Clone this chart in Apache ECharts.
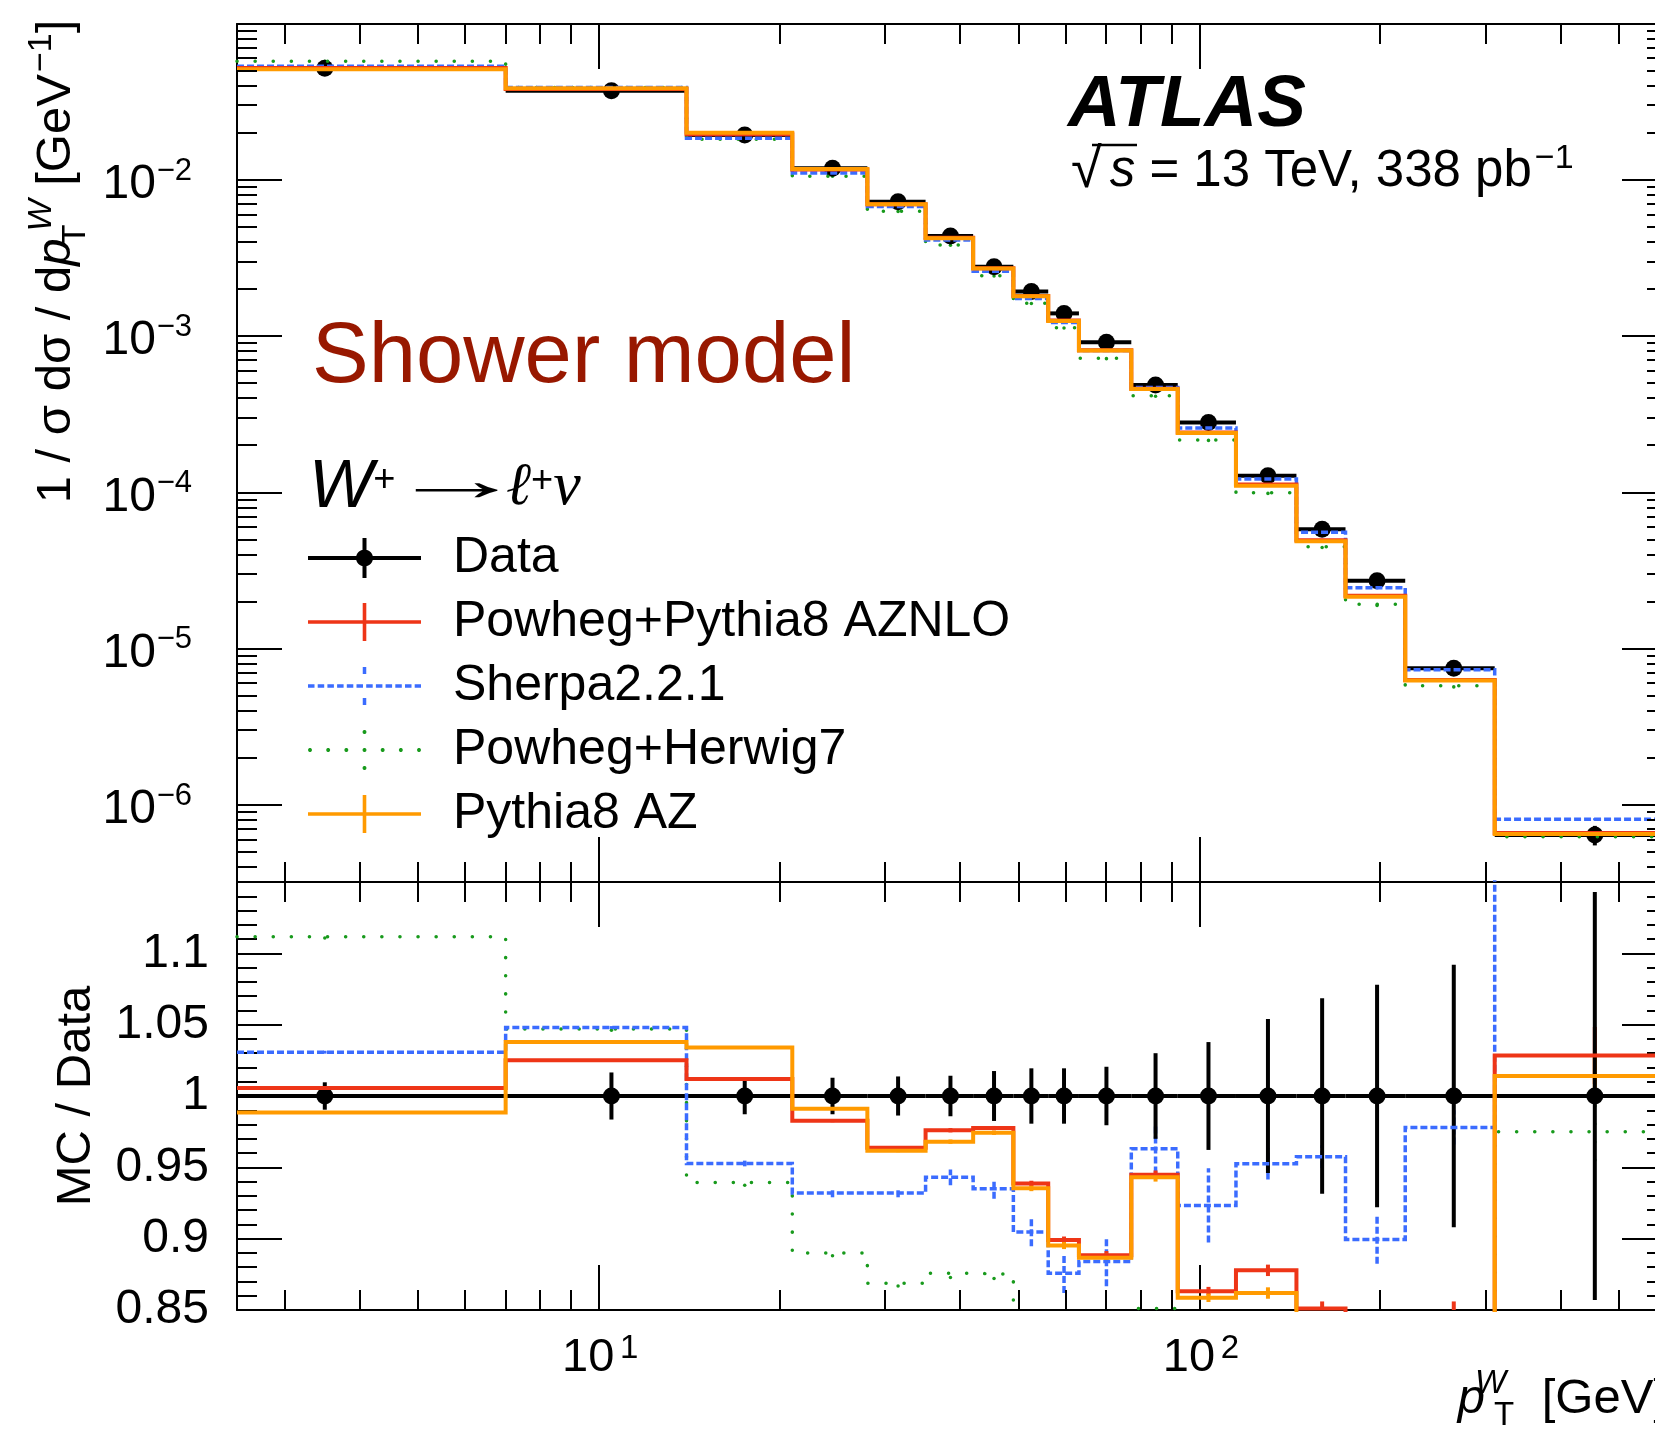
<!DOCTYPE html>
<html lang="en">
<head>
<meta charset="utf-8">
<title>W+ transverse momentum – shower model comparison</title>
<script src="https://cdn.jsdelivr.net/npm/echarts@6/dist/echarts.min.js"></script>
<style>
  html, body { margin: 0; padding: 0; background: #ffffff; overflow: hidden; }
  #chart { width: 1700px; height: 1442px; }
</style>
</head>
<body>
<div id="chart"></div>
<script>
// ---- measured normalised spectrum, W+ -> l+ nu ----
const binEdges   = [0, 7, 14, 21, 28, 35, 42, 49, 56, 63, 77, 92, 115, 145, 175, 220, 310, 600];
const dataValues = [0.0518, 0.0373, 0.01941, 0.01188, 0.00726, 0.00438, 0.002786, 0.00193, 0.00140,
                    0.000915, 0.000488, 0.000280, 0.0001281, 0.0000581, 0.00002726, 0.0000075, 0.000000643];
const dataRelErr = [0.0096, 0.0165, 0.0128, 0.0128, 0.0137, 0.0142, 0.0175, 0.0194, 0.0194,
                    0.0205, 0.030, 0.0378, 0.054, 0.0685, 0.078, 0.092, 0.143];

// ---- MC / Data ratios per bin ----
const ratioAZNLO  = [1.0056, 1.0251, 1.012, 0.9826, 0.9637, 0.976, 0.9775, 0.9386, 0.899,
                     0.8883, 0.9448, 0.8632, 0.8778, 0.851, 0.80, 0.84, 1.0284];
const ratioSherpa = [1.0307, 1.048, 0.9527, 0.932, 0.932, 0.943, 0.935, 0.9046, 0.8757,
                     0.884, 0.963, 0.9233, 0.9525, 0.9575, 0.8995, 0.978, 1.26];
const ratioHerwig = [1.1117, 1.047, 0.9394, 0.890, 0.8688, 0.8757, 0.875, 0.843, 0.809,
                     0.79, 0.851, 0.775, 0.778, 0.774, 0.706, 0.774, 0.975];
const ratioAZ     = [0.9885, 1.0378, 1.034, 0.991, 0.9616, 0.968, 0.9742, 0.9353, 0.8952,
                     0.8867, 0.943, 0.8586, 0.8619, 0.838, 0.79, 0.835, 1.0141];

// ---- MC statistical uncertainties (in ratio units) ----
const errAZNLO  = [0.0005, 0.0005, 0.0008, 0.001, 0.001, 0.0015, 0.0015, 0.002, 0.0025,
                   0.003, 0.003, 0.003, 0.004, 0.005, 0.008, 0.016, 0.02];
const errSherpa = [0.001, 0.001, 0.002, 0.003, 0.003, 0.0055, 0.007, 0.01, 0.0137,
                   0.0173, 0.0173, 0.026, 0.011, 0.008, 0.017, 0.012, 0.02];
const errHerwig = [0.001, 0.001, 0.002, 0.002, 0.002, 0.003, 0.003, 0.004, 0.004,
                   0.005, 0.006, 0.006, 0.008, 0.01, 0.012, 0.015, 0.02];
const errAZ     = [0.0005, 0.0005, 0.0008, 0.001, 0.001, 0.0015, 0.0015, 0.002, 0.0025,
                   0.003, 0.003, 0.003, 0.004, 0.005, 0.008, 0.01, 0.015];

// ---- axis ticks and labels ----
const xMajorTicks     = [10, 100];
const xMajorBase      = ['10', '10'];
const xMajorExponents = ['1', '2'];
const xMinorTicks     = [3, 4, 5, 6, 7, 8, 9, 20, 30, 40, 50, 60, 70, 80, 90, 200, 300, 400, 500];
const yMajorTicks     = [1e-6, 1e-5, 1e-4, 1e-3, 1e-2];
const yMajorBase      = ['10', '10', '10', '10', '10'];
const yMajorExponents = ['−6', '−5', '−4', '−3', '−2'];
const yMinorDecades   = [1e-7, 1e-6, 1e-5, 1e-4, 1e-3, 1e-2];
const yMinorSteps     = [2, 3, 4, 5, 6, 7, 8, 9];
const ratioTicks      = [0.85, 0.9, 0.95, 1, 1.05, 1.1];
const ratioTickLabels = ['0.85', '0.9', '0.95', '1', '1.05', '1.1'];

// ---- axis ranges ----
const X_MIN = 2.5, X_MAX = 600;
const Y_MIN = 3.214e-7, Y_MAX = 0.0996;
const R_MIN = 0.85, R_MAX = 1.15;

const FONT = '"Liberation Sans", Arial, Helvetica, sans-serif';
const SERIF = '"Liberation Serif", "DejaVu Serif", serif';
const BLACK = '#000000';

const nBins = dataValues.length;
const lowEdge = i => Math.max(binEdges[i], X_MIN);
const centre = i => (binEdges[i] + binEdges[i + 1]) / 2;
const sameLog = (a, b) => Math.abs(Math.log10(a) - Math.log10(b)) < 1e-6;
const pickLabel = (ticks, labels) => v => {
  const k = ticks.findIndex(t => sameLog(t, v));
  return k < 0 ? '' : labels[k];
};

const models = [
  { name: 'Powheg+Herwig7',       ratio: ratioHerwig, err: errHerwig, color: '#189a1c', width: 3.5, dash: [0.1, 18], cap: 'round' },
  { name: 'Sherpa2.2.1',          ratio: ratioSherpa, err: errSherpa, color: '#3b6cff', width: 3.5, dash: [7, 3],   cap: 'butt' },
  { name: 'Powheg+Pythia8 AZNLO', ratio: ratioAZNLO,  err: errAZNLO,  color: '#ee3517', width: 4,   dash: 'solid',  cap: 'butt' },
  { name: 'Pythia8 AZ',           ratio: ratioAZ,     err: errAZ,     color: '#ff9a00', width: 4,   dash: 'solid',  cap: 'butt' }
];

// histogram outline: one point per lower bin edge plus the closing edge
function stepPoints(values) {
  const pts = values.map((v, i) => [lowEdge(i), v]);
  pts.push([binEdges[nBins], values[nBins - 1]]);
  return pts;
}

function stubRenderer(m) {
  return function (params, api) {
    const a = api.coord([api.value(0), api.value(1)]);
    const b = api.coord([api.value(0), api.value(2)]);
    return {
      type: 'line',
      shape: { x1: a[0], y1: a[1], x2: b[0], y2: b[1] },
      style: { stroke: m.color, lineWidth: m.width, lineDash: m.dash === 'solid' ? null : m.dash, lineCap: m.cap }
    };
  };
}

function renderData(params, api) {
  const lo = api.value(0), hi = api.value(1), c = api.value(2), v = api.value(3), e = api.value(4);
  const a = api.coord([lo, v]), b = api.coord([hi, v]), m = api.coord([c, v]);
  const up = api.coord([c, v * (1 + e)]), dn = api.coord([c, v * (1 - e)]);
  const st = { stroke: BLACK, lineWidth: 4 };
  return {
    type: 'group',
    children: [
      { type: 'line', shape: { x1: a[0], y1: a[1], x2: b[0], y2: b[1] }, style: st },
      { type: 'line', shape: { x1: m[0], y1: up[1], x2: m[0], y2: dn[1] }, style: st },
      { type: 'circle', shape: { cx: m[0], cy: m[1], r: 8.5 }, style: { fill: BLACK } }
    ]
  };
}

// minor ticks on log axes, drawn inward from both sides of a pad
function renderTick(params, api) {
  const cs = params.coordSys;
  const p = api.coord([api.value(0), api.value(1)]);
  const st = { stroke: BLACK, lineWidth: 2 };
  if (api.value(2) === 0) {
    const x = Math.round(p[0]);
    return { type: 'group', children: [
      { type: 'line', shape: { x1: x, y1: cs.y + cs.height, x2: x, y2: cs.y + cs.height - 20 }, style: st },
      { type: 'line', shape: { x1: x, y1: cs.y, x2: x, y2: cs.y + 20 }, style: st }
    ]};
  }
  const y = Math.round(p[1]);
  return { type: 'group', children: [
    { type: 'line', shape: { x1: cs.x, y1: y, x2: cs.x + 20, y2: y }, style: st },
    { type: 'line', shape: { x1: cs.x + cs.width, y1: y, x2: cs.x + cs.width - 20, y2: y }, style: st }
  ]};
}

const yMinorTicks = [];
yMinorDecades.forEach(d => yMinorSteps.forEach(s => {
  const v = d * s;
  if (v > Y_MIN && v < Y_MAX) yMinorTicks.push(v);
}));

const series = [];

series.push({
  type: 'custom', name: 'ticks-upper', xAxisIndex: 0, yAxisIndex: 0, clip: false, silent: true, z: 5,
  encode: { x: 0, y: 1 },
  data: xMinorTicks.map(v => [v, 1e-3, 0]).concat(yMinorTicks.map(v => [10, v, 1])),
  renderItem: renderTick
});
series.push({
  type: 'custom', name: 'ticks-lower', xAxisIndex: 2, yAxisIndex: 2, clip: false, silent: true, z: 5,
  encode: { x: 0, y: 1 },
  data: xMinorTicks.map(v => [v, 1, 0]),
  renderItem: renderTick
});

models.forEach(m => {
  const upper = m.ratio.map((r, i) => r * dataValues[i]);
  const lineCommon = {
    name: m.name, type: 'line', step: 'end', symbol: 'none', showSymbol: false, clip: true, silent: true,
    color: m.color, itemStyle: { color: m.color },
    lineStyle: { color: m.color, width: m.width, type: m.dash, cap: m.cap, join: 'miter' },
    emphasis: { disabled: true }
  };
  series.push(Object.assign({}, lineCommon, { xAxisIndex: 0, yAxisIndex: 0, data: stepPoints(upper) }));
  series.push({
    name: m.name, type: 'custom', xAxisIndex: 0, yAxisIndex: 0, clip: true, silent: true,
    itemStyle: { color: m.color }, encode: { x: 0, y: [1, 2] },
    data: upper.map((v, i) => [centre(i), v - m.err[i] * dataValues[i], v + m.err[i] * dataValues[i]]),
    renderItem: stubRenderer(m)
  });
  series.push(Object.assign({}, lineCommon, { xAxisIndex: 2, yAxisIndex: 2, data: stepPoints(m.ratio) }));
  series.push({
    name: m.name, type: 'custom', xAxisIndex: 2, yAxisIndex: 2, clip: true, silent: true,
    itemStyle: { color: m.color }, encode: { x: 0, y: [1, 2] },
    data: m.ratio.map((r, i) => [centre(i), r - m.err[i], r + m.err[i]]),
    renderItem: stubRenderer(m)
  });
});

series.push({
  name: 'Data', type: 'custom', xAxisIndex: 0, yAxisIndex: 0, clip: true, silent: true,
  itemStyle: { color: BLACK }, encode: { x: [0, 1, 2], y: [3] },
  data: dataValues.map((v, i) => [lowEdge(i), binEdges[i + 1], centre(i), v, dataRelErr[i]]),
  renderItem: renderData
});
series.push({
  name: 'Data', type: 'custom', xAxisIndex: 2, yAxisIndex: 2, clip: true, silent: true,
  itemStyle: { color: BLACK }, encode: { x: [0, 1, 2], y: [3] },
  data: dataValues.map((v, i) => [lowEdge(i), binEdges[i + 1], centre(i), v / v, dataRelErr[i]]),
  renderItem: renderData
});

// ---- legend icons (113 x 40 boxes) ----
const rect = (x, y, w, h) => `M${x},${y}L${x + w},${y}L${x + w},${y + h}L${x},${y + h}Z`;
function disc(cx, cy, r, n) {
  let s = '';
  for (let k = 0; k < n; k++) {
    const a = 2 * Math.PI * k / n;
    s += (k === 0 ? 'M' : 'L') + (cx + r * Math.cos(a)).toFixed(2) + ',' + (cy + r * Math.sin(a)).toFixed(2);
  }
  return s + 'Z';
}
const iconData = 'path://' + rect(0, 18, 113, 4) + rect(54.5, 0, 4, 40) + disc(56.5, 20, 8.5, 32);
const iconSolid = 'path://' + rect(0, 18.2, 113, 3.6) + rect(54.7, 1, 3.6, 38);
let dashPath = '';
for (let x = 0; x < 113; x += 9.7) dashPath += rect(+x.toFixed(2), 18.25, +Math.min(6.5, 113 - x).toFixed(2), 3.5);
dashPath += rect(54.75, 1, 3.5, 7) + rect(54.75, 32, 3.5, 7);
const iconDash = 'path://' + dashPath;
let dotPath = '';
for (let k = 0; k < 7; k++) dotPath += disc(2 + k * 18.1667, 20, 2, 10);
dotPath += disc(56.5, 2, 2, 10) + disc(56.5, 38, 2, 10);
const iconDot = 'path://' + dotPath;

// ---- axes ----
const frameLine = { show: true, onZero: false, lineStyle: { color: BLACK, width: 2 } };
const majorTick = { show: true, inside: true, length: 45, lineStyle: { color: BLACK, width: 2 } };
const noLabel = { show: false };
const noSplit = { show: false };
const hidden = { show: false };

function logXAxis(grid, position, extra) {
  return Object.assign({
    type: 'log', logBase: 10, gridIndex: grid, position: position, min: X_MIN, max: X_MAX,
    axisLine: frameLine, axisTick: majorTick, axisLabel: noLabel, splitLine: noSplit,
    nameMoveOverlap: false
  }, extra || {});
}

const xAxes = [
  logXAxis(0, 'bottom'),
  logXAxis(0, 'top'),
  // bottom axis of the ratio pad: mantissa labels and axis title
  logXAxis(1, 'bottom', {
    axisLabel: {
      show: true, margin: 25, color: BLACK, fontFamily: FONT, fontSize: 47,
      padding: [0, 21, 0, 0], showMinLabel: true, showMaxLabel: true,
      formatter: pickLabel(xMajorTicks, xMajorBase)
    },
    name: '{ix|p}{wx|W}{tx|T}{nx| [GeV]}',
    nameLocation: 'end', nameGap: 0,
    nameTextStyle: {
      align: 'right', verticalAlign: 'top', padding: [54, 0, 0, 0], lineHeight: 70,
      color: BLACK, fontFamily: FONT, fontSize: 49,
      rich: {
        ix: { fontSize: 49, fontStyle: 'italic', fontFamily: FONT, color: BLACK },
        wx: { fontSize: 33, height: 40, width: 1, align: 'left', verticalAlign: 'top', fontStyle: 'italic', padding: [0, 0, 0, 5], fontFamily: FONT, color: BLACK },
        tx: { fontSize: 33, height: 36, align: 'left', verticalAlign: 'bottom', padding: [0, 0, 0, 3], fontFamily: FONT, color: BLACK },
        nx: { fontSize: 49, fontFamily: FONT, color: BLACK, padding: [0, 0, 0, 14] }
      }
    }
  }),
  logXAxis(1, 'top'),
  // exponents of the bottom labels
  logXAxis(1, 'bottom', {
    axisLine: hidden, axisTick: hidden,
    axisLabel: {
      show: true, margin: 22, color: BLACK, fontFamily: FONT, fontSize: 33,
      padding: [0, 0, 0, 61], showMinLabel: true, showMaxLabel: true,
      formatter: pickLabel(xMajorTicks, xMajorExponents)
    }
  })
];

const yAxes = [
  {
    type: 'log', logBase: 10, gridIndex: 0, position: 'left', min: Y_MIN, max: Y_MAX,
    axisLine: frameLine, axisTick: majorTick, splitLine: noSplit, nameMoveOverlap: false,
    axisLabel: {
      show: true, margin: 81, color: BLACK, fontFamily: FONT, fontSize: 48,
      lineHeight: 10, verticalAlign: 'top', showMinLabel: true, showMaxLabel: true,
      formatter: pickLabel(yMajorTicks, yMajorBase)
    },
    name: '{ny|1 / σ dσ / d}{iy|p}{ty|T}{wy|W}{ny| [GeV}{ey|−1}{ny|]}',
    nameLocation: 'middle', nameRotate: 90, nameGap: 146,
    nameTextStyle: {
      padding: [0, 0, 0, 383], lineHeight: 70, color: BLACK, fontFamily: FONT, fontSize: 49,
      rich: {
        ny: { fontSize: 49, fontFamily: FONT, color: BLACK },
        iy: { fontSize: 49, fontStyle: 'italic', fontFamily: FONT, color: BLACK },
        ty: { fontSize: 34, height: 30, width: 1, align: 'left', verticalAlign: 'bottom', padding: [0, 0, 0, 3], fontFamily: FONT, color: BLACK },
        wy: { fontSize: 34, height: 42, align: 'left', verticalAlign: 'top', fontStyle: 'italic', padding: [0, 0, 0, 3], fontFamily: FONT, color: BLACK },
        ey: { fontSize: 34, height: 42, verticalAlign: 'top', padding: [0, 0, 0, 2], fontFamily: FONT, color: BLACK }
      }
    }
  },
  {
    type: 'log', logBase: 10, gridIndex: 0, position: 'right', min: Y_MIN, max: Y_MAX,
    axisLine: frameLine, axisTick: majorTick, axisLabel: noLabel, splitLine: noSplit, nameMoveOverlap: false
  },
  {
    type: 'value', gridIndex: 1, position: 'left', min: R_MIN, max: R_MAX, interval: 0.05,
    axisLine: frameLine, axisTick: majorTick, splitLine: noSplit, nameMoveOverlap: false,
    minorTick: { show: true, splitNumber: 5, length: 20, lineStyle: { color: BLACK, width: 2 } },
    minorSplitLine: { show: false },
    axisLabel: {
      show: true, margin: 28, color: BLACK, fontFamily: FONT, fontSize: 48,
      showMinLabel: true, showMaxLabel: true,
      formatter: v => {
        const k = ratioTicks.findIndex(t => Math.abs(t - v) < 1e-6);
        return k < 0 ? '' : ratioTickLabels[k];
      }
    },
    name: 'MC / Data', nameLocation: 'middle', nameRotate: 90, nameGap: 136,
    nameTextStyle: { fontSize: 49, lineHeight: 49, color: BLACK, fontFamily: FONT }
  },
  {
    type: 'value', gridIndex: 1, position: 'right', min: R_MIN, max: R_MAX, interval: 0.05,
    axisLine: frameLine, axisTick: majorTick, axisLabel: noLabel, splitLine: noSplit, nameMoveOverlap: false,
    minorTick: { show: true, splitNumber: 5, length: 20, lineStyle: { color: BLACK, width: 2 } },
    minorSplitLine: { show: false }
  },
  // exponents of the upper-pad labels
  {
    type: 'log', logBase: 10, gridIndex: 0, position: 'left', min: Y_MIN, max: Y_MAX,
    axisLine: hidden, axisTick: hidden, splitLine: noSplit, nameMoveOverlap: false,
    axisLabel: {
      show: true, margin: 45, color: BLACK, fontFamily: FONT, fontSize: 31,
      lineHeight: 18, verticalAlign: 'bottom', showMinLabel: true, showMaxLabel: true,
      formatter: pickLabel(yMajorTicks, yMajorExponents)
    }
  }
];

const option = {
  backgroundColor: '#ffffff',
  animation: false,
  textStyle: { fontFamily: FONT, color: BLACK },
  grid: [
    { left: 237, top: 24, width: 1430, height: 858, outerBoundsMode: 'none', containLabel: false },
    { left: 237, top: 882, width: 1430, height: 428, outerBoundsMode: 'none', containLabel: false }
  ],
  xAxis: xAxes,
  yAxis: yAxes,
  legend: {
    orient: 'vertical', left: 308, top: 533, padding: 0,
    itemWidth: 113, itemHeight: 40, itemGap: 14,
    selectedMode: false, symbolKeepAspect: true,
    itemStyle: { borderWidth: 0 },
    textStyle: { fontSize: 50, lineHeight: 50, color: BLACK, fontFamily: FONT, padding: [0, 0, 0, 27] },
    data: [
      { name: 'Data', icon: iconData },
      { name: 'Powheg+Pythia8 AZNLO', icon: iconSolid },
      { name: 'Sherpa2.2.1', icon: iconDash },
      { name: 'Powheg+Herwig7', icon: iconDot },
      { name: 'Pythia8 AZ', icon: iconSolid }
    ]
  },
  graphic: [
    {
      type: 'text', x: 1068, y: 106, silent: true,
      style: { text: 'ATLAS', fontSize: 73, fontWeight: 'bold', fontStyle: 'italic', fontFamily: FONT,
               fill: BLACK, align: 'left', verticalAlign: 'middle' }
    },
    {
      type: 'text', x: 1071, y: 172, silent: true,
      style: {
        text: '{r|√}{s|s}{n| = 13 TeV, 338 pb}{e|−1}',
        fontFamily: FONT, fontSize: 51, lineHeight: 60, fill: BLACK, align: 'left', verticalAlign: 'middle',
        rich: {
          r: { fontSize: 56, fontFamily: FONT, fill: BLACK },
          s: { fontSize: 51, fontStyle: 'italic', fontFamily: FONT, padding: [0, 0, 0, 8], fill: BLACK },
          n: { fontSize: 51, fontFamily: FONT, fill: BLACK },
          e: { fontSize: 34, height: 34, verticalAlign: 'top', padding: [0, 0, 0, 3], fontFamily: FONT, fill: BLACK }
        }
      }
    },
    {
      type: 'line', silent: true,
      shape: { x1: 1092, y1: 145, x2: 1137, y2: 145 },
      style: { stroke: BLACK, lineWidth: 2.5 }
    },
    {
      type: 'text', x: 312, y: 359, silent: true,
      style: { text: 'Shower model', fontSize: 85, fontFamily: FONT, fill: '#981800', align: 'left', verticalAlign: 'middle' }
    },
    {
      type: 'text', x: 309, y: 488, silent: true,
      style: {
        text: '{w|W}{p|+}',
        fontFamily: FONT, fontSize: 68, lineHeight: 74, fill: BLACK, align: 'left', verticalAlign: 'middle',
        rich: {
          w: { fontSize: 68, fontStyle: 'italic', fontFamily: FONT, fill: BLACK },
          p: { fontSize: 38, height: 60, verticalAlign: 'top', fontFamily: FONT, fill: BLACK }
        }
      }
    },
    {
      type: 'text', x: 388, y: 484, scaleX: 2.3, silent: true,
      style: { text: '→', fontSize: 60, fontFamily: SERIF, fill: BLACK, align: 'left', verticalAlign: 'middle' }
    },
    {
      type: 'text', x: 506, y: 488, silent: true,
      style: {
        text: '{l|ℓ}{p|+}{v|ν}',
        fontFamily: SERIF, fontSize: 60, lineHeight: 70, fill: BLACK, align: 'left', verticalAlign: 'middle',
        rich: {
          l: { fontSize: 60, fontFamily: '"DejaVu Serif", serif', fontStyle: 'italic', fill: BLACK },
          p: { fontSize: 38, height: 57, verticalAlign: 'top', fontFamily: FONT, fill: BLACK },
          v: { fontSize: 62, fontFamily: SERIF, fontStyle: 'italic', fill: BLACK }
        }
      }
    }
  ],
  series: series
};

const chart = echarts.init(document.getElementById('chart'), null, { renderer: 'canvas', width: 1700, height: 1442 });
chart.setOption(option);
</script>
</body>
</html>
